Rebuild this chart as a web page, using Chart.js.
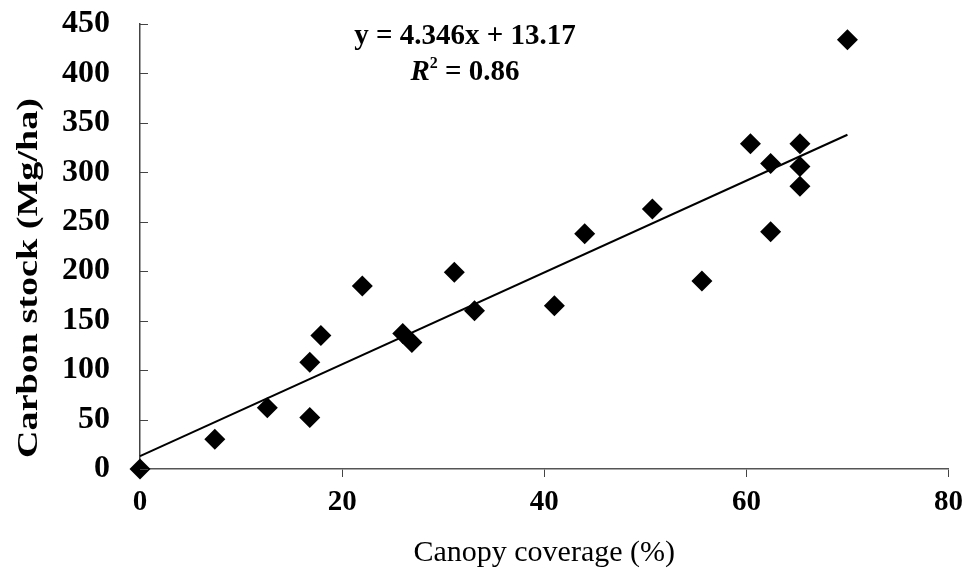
<!DOCTYPE html>
<html>
<head>
<meta charset="utf-8">
<script src="https://cdn.jsdelivr.net/npm/chart.js@4/dist/chart.umd.min.js"></script>
<style>
    html, body { margin: 0; padding: 0; background: #fff; }
    #wrap { width: 971px; height: 572px; }
</style>
</head>
<body>
<div id="wrap"><canvas id="chart"></canvas></div>
<script>
// canopy coverage (%) vs carbon stock (Mg/ha)
const coverage = [0, 7.4, 12.6, 16.8, 16.8, 17.9, 22, 26, 26.9, 31.1, 33.1, 41, 44, 50.7, 55.6, 60.4, 62.4, 62.4, 65.3, 65.3, 65.3, 70];
const carbon = [0, 30, 62, 52, 108, 135, 185, 137, 128, 199, 160, 165, 238, 263, 190, 329, 309, 240, 329, 306, 286, 434];

// fitted line as drawn in the figure (end points)
const trendX = [0, 70];
const trendY = [13, 338];

const xTicks = [0, 20, 40, 60, 80];
const yTicks = [0, 50, 100, 150, 200, 250, 300, 350, 400, 450];

const equationText = 'y = 4.346x + 13.17';
const r2Value = '0.86';
const yTitle = 'Carbon stock (Mg/ha)';

const serif = '"Liberation Serif", "DejaVu Serif", serif';

// y ticks point into the plot area, so draw them ourselves
const innerTicks = {
    id: 'innerTicks',
    afterDraw: (chart) => {
        const { ctx, scales: { x, y } } = chart;
        ctx.save();
        ctx.strokeStyle = '#444';
        ctx.lineWidth = 1;
        yTicks.forEach((v) => {
            const py = Math.round(y.getPixelForValue(v)) + 0.5;
            ctx.beginPath();
            ctx.moveTo(x.left, py);
            ctx.lineTo(x.left + 8, py);
            ctx.stroke();
        });
        ctx.restore();
    }
};

// the scanned y title is stretched along its length
const yTitleLabel = {
    id: 'yTitleLabel',
    afterDraw: (chart) => {
        const { ctx } = chart;
        ctx.save();
        ctx.translate(29, 278);
        ctx.rotate(-Math.PI / 2);
        ctx.scale(1.27, 1);
        ctx.font = `bold 30px ${serif}`;
        ctx.fillStyle = '#000';
        ctx.textAlign = 'center';
        ctx.textBaseline = 'middle';
        ctx.fillText(yTitle, 0, 0);
        ctx.restore();
    }
};

// regression equation and R² above the points
const equationLabel = {
    id: 'equationLabel',
    afterDraw: (chart) => {
        const { ctx } = chart;
        const cx = 465;
        ctx.save();
        ctx.fillStyle = '#000';
        ctx.textBaseline = 'alphabetic';
        ctx.font = `bold 29px ${serif}`;
        ctx.textAlign = 'center';
        ctx.fillText(equationText, cx, 44);

        // R² = 0.86, italic R with superscript 2
        const rFont = `italic bold 29px ${serif}`;
        const supFont = `bold 16px ${serif}`;
        const restFont = `bold 29px ${serif}`;
        const rest = ' = ' + r2Value;
        ctx.font = rFont;
        const wR = ctx.measureText('R').width;
        ctx.font = supFont;
        const wS = ctx.measureText('2').width;
        ctx.font = restFont;
        const wRest = ctx.measureText(rest).width;
        let x = cx - (wR + wS + wRest) / 2;
        const base = 80;
        ctx.textAlign = 'left';
        ctx.font = rFont;
        ctx.fillText('R', x, base);
        x += wR;
        ctx.font = supFont;
        ctx.fillText('2', x, base - 12);
        x += wS;
        ctx.font = restFont;
        ctx.fillText(rest, x, base);
        ctx.restore();
    }
};

const points = coverage.map((c, i) => ({ x: c, y: carbon[i] }));
const trend = trendX.map((c, i) => ({ x: c, y: trendY[i] }));

new Chart(document.getElementById('chart'), {
    type: 'scatter',
    data: {
        datasets: [
            {
                label: 'Carbon stock',
                data: points,
                pointStyle: 'rectRot',
                pointRadius: 10.5,
                pointHoverRadius: 10.5,
                backgroundColor: '#000',
                borderColor: '#000',
                borderWidth: 0,
                clip: false,
                order: 1,
            },
            {
                label: 'Linear fit',
                type: 'line',
                data: trend,
                borderColor: '#000',
                borderWidth: 2,
                pointRadius: 0,
                fill: false,
                clip: false,
                order: 2,
            }
        ]
    },
    options: {
        responsive: true,
        maintainAspectRatio: false,
        animation: false,
        events: [],
        layout: { padding: { top: 24, right: 18, left: 0, bottom: 0 } },
        plugins: {
            legend: { display: false },
            tooltip: { enabled: false },
        },
        scales: {
            x: {
                type: 'linear',
                min: 0,
                max: 80,
                afterBuildTicks: (scale) => { scale.ticks = xTicks.map(v => ({ value: v })); },
                afterFit: (scale) => { scale.height = 103; },
                ticks: {
                    color: '#000',
                    font: { family: serif, size: 29, weight: 'bold' },
                    padding: 8,
                    maxRotation: 0,
                },
                grid: {
                    drawOnChartArea: false,
                    tickLength: 8,
                    color: '#444',
                },
                border: { color: '#555', width: 1.5 },
                title: {
                    display: true,
                    text: 'Canopy coverage (%)',
                    color: '#000',
                    font: { family: serif, size: 30 },
                    padding: { bottom: 1 },
                },
            },
            y: {
                type: 'linear',
                min: 0,
                max: 450,
                afterBuildTicks: (scale) => { scale.ticks = yTicks.map(v => ({ value: v })); },
                afterFit: (scale) => {
                    scale.width = 140;
                    // let the layout padding alone decide where the top tick sits
                    scale.paddingTop = 0;
                    scale.paddingBottom = 0;
                },
                ticks: {
                    color: '#000',
                    font: { family: serif, size: 32, weight: 'bold' },
                    padding: 22,
                },
                grid: { display: false },
                border: { color: '#444', width: 1.5 },
            },
        },
    },
    plugins: [innerTicks, yTitleLabel, equationLabel],
});
</script>
</body>
</html>
